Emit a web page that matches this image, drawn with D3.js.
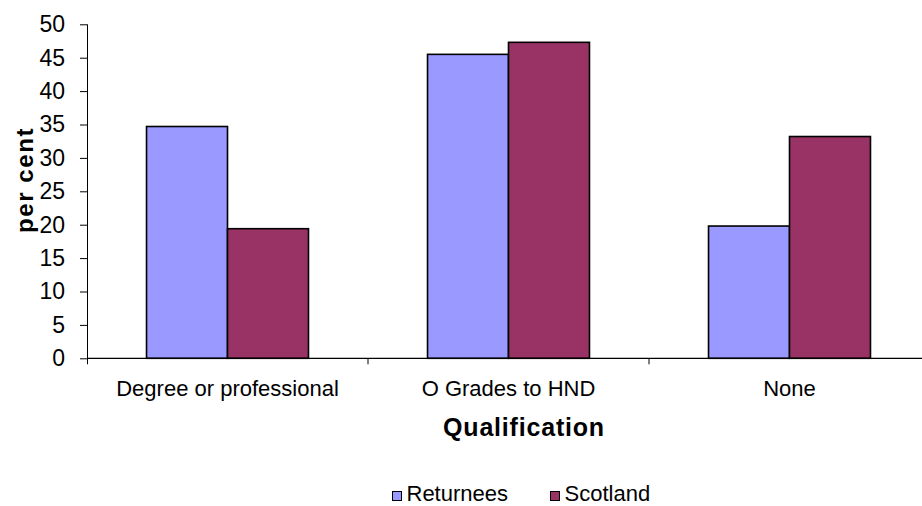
<!DOCTYPE html>
<html><head><meta charset="utf-8">
<script src="https://cdn.jsdelivr.net/npm/d3@7"></script>
<style>
html,body{margin:0;padding:0;background:#fff;}
svg{display:block;font-family:"Liberation Sans",Arial,sans-serif;}
</style></head>
<body>
<svg id="chart" width="922" height="506"></svg>
<script>
const categories = ["Degree or professional", "O Grades to HND", "None"];
const seriesNames = ["Returnees", "Scotland"];
const returnees = [34.7, 45.5, 19.8];
const scotland = [19.4, 47.3, 33.2];
const yTicks = [0, 5, 10, 15, 20, 25, 30, 35, 40, 45, 50];
const colors = ["#9999FF", "#993366"];

const svg = d3.select("#chart");
const plotLeft = 87, plotRight = 930, plotTop = 24.3, plotBottom = 358.3;

const y = d3.scaleLinear().domain([0, 50]).range([plotBottom, plotTop]);
const x0 = d3.scaleBand().domain(categories).range([plotLeft, plotRight]).paddingInner(0).paddingOuter(0);
const x1 = d3.scaleBand().domain(seriesNames).range([0, x0.bandwidth()]).paddingInner(0).paddingOuter(0.735);

const data = categories.map((c, i) => ({cat: c, vals: [
  {s: seriesNames[0], v: returnees[i]},
  {s: seriesNames[1], v: scotland[i]}
]}));

// bars
const g = svg.append("g");
g.selectAll("g.grp").data(data).join("g").attr("class", "grp")
  .attr("transform", d => `translate(${x0(d.cat)},0)`)
  .selectAll("rect").data(d => d.vals).join("rect")
  .attr("x", d => x1(d.s))
  .attr("width", x1.bandwidth())
  .attr("y", d => y(d.v))
  .attr("height", d => y(0) - y(d.v))
  .attr("fill", (d, i) => colors[i])
  .attr("stroke", "#000")
  .attr("stroke-width", 1.6);

// y axis
const yAxis = svg.append("g").attr("transform", `translate(${plotLeft},0)`)
  .call(d3.axisLeft(y).tickValues(yTicks).tickSize(7).tickPadding(15).tickSizeOuter(0));
yAxis.select(".domain").attr("d", `M0.5,${plotTop}V${plotBottom + 6}`).attr("stroke", "#000");
yAxis.selectAll(".tick line").attr("stroke", "#000");
yAxis.selectAll(".tick text").attr("font-size", 23).attr("fill", "#000")
  .attr("font-family", "Liberation Sans, Arial, sans-serif");

// x axis line and boundary ticks
const xAxisG = svg.append("g");
xAxisG.append("line").attr("x1", plotLeft).attr("x2", 922).attr("y1", plotBottom).attr("y2", plotBottom)
  .attr("stroke", "#000").attr("stroke-width", 1.2);
const bounds = categories.slice(1).map(c => x0(c));
xAxisG.selectAll("line.b").data(bounds).join("line").attr("class", "b")
  .attr("x1", d => d).attr("x2", d => d).attr("y1", plotBottom).attr("y2", plotBottom + 6)
  .attr("stroke", "#000");

// category labels
const xLab = svg.append("g").attr("transform", `translate(0,${plotBottom})`)
  .call(d3.axisBottom(x0).tickSize(0).tickPadding(22));
xLab.select(".domain").remove();
xLab.selectAll(".tick text").attr("font-size", 22).attr("fill", "#000")
  .attr("font-family", "Liberation Sans, Arial, sans-serif");

// axis titles
svg.append("text").attr("x", 524).attr("y", 436).attr("text-anchor", "middle")
  .attr("font-size", 25).attr("font-weight", "bold").attr("letter-spacing", 0.8)
  .text("Qualification");
svg.append("text").attr("transform", "translate(33,180) rotate(-90)").attr("text-anchor", "middle")
  .attr("font-size", 24).attr("font-weight", "bold").attr("letter-spacing", 1.6)
  .text("per cent");

// legend
const legend = svg.append("g");
const legX = [392.5, 550.5];
seriesNames.forEach((s, i) => {
  legend.append("rect").attr("x", legX[i]).attr("y", 491.5).attr("width", 9).attr("height", 9)
    .attr("fill", colors[i]).attr("stroke", "#000").attr("stroke-width", 1);
  legend.append("text").attr("x", legX[i] + 14).attr("y", 501).attr("font-size", 22).text(s);
});
</script>
</body></html>
